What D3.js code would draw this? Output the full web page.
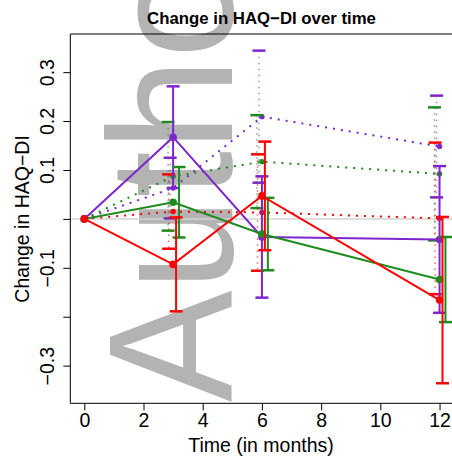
<!DOCTYPE html>
<html>
<head>
    <meta charset="utf-8" />
    <script src="https://d3js.org/d3.v7.min.js"></script>
    <style>
        body { margin: 0; background: #fff; }
        svg { display: block; font-family: "Liberation Sans", Arial, sans-serif; }
    </style>
</head>
<body>
<div id="chart"></div>
<script>
    // ---- data ----
    var times = [0, 3, 6, 12];

    // solid lines
    var purpleMean = [0, 0.167, -0.037, -0.042];
    var purpleErr  = [0, 0.104, 0.124, 0.150];
    var greenMean  = [0, 0.034, -0.031, -0.124];
    var greenErr   = [0, 0.072, 0.074, 0.087];
    var redMean    = [0, -0.093, 0.047, -0.166];
    var redErr     = [0, 0.096, 0.111, 0.170];

    // dotted lines
    var purpleDotMean = [0, 0.063, 0.209, 0.148];
    var purpleDotErr  = [0, 0.062, 0.135, 0.104];
    var greenDotMean  = [0, 0.087, 0.117, 0.092];
    var greenDotErr   = [0, 0.111, 0.095, 0.136];
    var redDotMean    = [0, 0.015, 0.013, 0.001];
    var redDotErr     = [0, 0.076, 0.119, 0.155];

    var xTicks = [0, 2, 4, 6, 8, 10, 12];
    var yTicks = [-0.3, -0.2, -0.1, 0, 0.1, 0.2, 0.3];
    var yTickLabels = ["\u22120.3", "", "\u22120.1", "", "0.1", "0.2", "0.3"];

    var W = 452, H = 462;
    var purple = "#7D26CD", green = "#1E8B1E", red = "#FF0000";

    var svg = d3.select("#chart").append("svg")
        .attr("width", W).attr("height", H);

    // plot region (right edge falls outside the window)
    var x = d3.scaleLinear().domain([-0.473, 12.6]).range([70.3, 457.3]);
    var y = d3.scaleLinear().domain([-0.377, 0.378]).range([403.3, 34]);

    // watermark behind everything
    svg.append("text")
        .attr("transform", "translate(232,402) rotate(-90) scale(0.95,1)")
        .attr("font-size", 176)
        .attr("fill", "#b3b3b3")
        .text("Author Manuscript");

    // zero reference line
    svg.append("line")
        .attr("x1", x.range()[0]).attr("x2", W)
        .attr("y1", y(0)).attr("y2", y(0))
        .attr("stroke", "#d3d3d3").attr("stroke-width", 1.5);

    var series = [
        {mean: purpleDotMean, err: purpleDotErr, color: purple, dotted: true, shift: -0.1},
        {mean: greenDotMean, err: greenDotErr, color: green, dotted: true, shift: -0.17},
        {mean: redDotMean, err: redDotErr, color: red, dotted: true, shift: -0.15},
        {mean: purpleMean, err: purpleErr, color: purple, dotted: false, shift: 0},
        {mean: greenMean, err: greenErr, color: green, dotted: false, shift: 0.2},
        {mean: redMean, err: redErr, color: red, dotted: false, shift: 0.1}
    ];

    var line = d3.line().x(d => x(d.t)).y(d => y(d.m));

    series.forEach(function (s) {
        var pts = times.map((t, i) => ({t: t, m: s.mean[i], e: s.err[i]}));
        var g = svg.append("g");

        g.append("path")
            .attr("d", line(pts))
            .attr("fill", "none")
            .attr("stroke", s.color)
            .attr("stroke-width", 2)
            .attr("stroke-dasharray", s.dotted ? "2,6" : null);

        // error bars (jittered a little along x)
        var bars = g.selectAll(".bar")
            .data(pts.filter(d => d.e > 0))
            .enter().append("g");
        bars.append("line")
            .attr("x1", d => x(d.t + s.shift)).attr("x2", d => x(d.t + s.shift))
            .attr("y1", d => y(d.m + d.e)).attr("y2", d => y(d.m - d.e))
            .attr("stroke", s.color)
            .attr("stroke-width", s.dotted ? 1.5 : 2)
            .attr("stroke-opacity", s.dotted ? 0.6 : 1)
            .attr("stroke-dasharray", s.dotted ? "1.5,4.5" : null);
        [1, -1].forEach(function (sign) {
            bars.append("line")
                .attr("x1", d => x(d.t + s.shift) - 6.5).attr("x2", d => x(d.t + s.shift) + 6.5)
                .attr("y1", d => y(d.m + sign * d.e)).attr("y2", d => y(d.m + sign * d.e))
                .attr("stroke", s.color).attr("stroke-width", 2.5);
        });

        g.selectAll("circle")
            .data(pts)
            .enter().append("circle")
            .attr("cx", d => x(d.t)).attr("cy", d => y(d.m))
            .attr("r", s.dotted ? 2.7 : 3.8)
            .attr("fill", s.color);
    });

    // box (left, top, bottom)
    svg.append("path")
        .attr("d", "M" + W + "," + y.range()[1] + "H" + x.range()[0] + "V" + y.range()[0] + "H" + W)
        .attr("fill", "none").attr("stroke", "#000").attr("stroke-width", 1);

    // x axis
    var xAxis = svg.append("g")
        .attr("transform", "translate(0," + y.range()[0] + ")")
        .call(d3.axisBottom(x).tickValues(xTicks).tickSize(7).tickPadding(3).tickFormat(d3.format("d")));
    xAxis.select(".domain").remove();
    xAxis.selectAll("text").attr("font-size", 19.5).attr("font-family", "Liberation Sans, Arial, sans-serif").attr("fill", "#000");

    // y axis, labels turned like R's las=0
    var yAxis = svg.append("g")
        .attr("transform", "translate(" + x.range()[0] + ",0)")
        .call(d3.axisLeft(y).tickValues(yTicks).tickSize(7).tickFormat((d, i) => yTickLabels[i]));
    yAxis.select(".domain").remove();
    yAxis.selectAll("text")
        .attr("x", null).attr("dy", null)
        .attr("transform", "translate(-16,0) rotate(-90)")
        .attr("text-anchor", "middle")
        .attr("font-size", 19.5)
        .attr("font-family", "Liberation Sans, Arial, sans-serif")
        .attr("fill", "#000");

    // titles
    svg.append("text")
        .attr("x", 261.5).attr("y", 24)
        .attr("text-anchor", "middle")
        .attr("font-size", 16.8).attr("font-weight", "bold")
        .text("Change in HAQ\u2212DI over time");

    svg.append("text")
        .attr("x", 261).attr("y", 452)
        .attr("text-anchor", "middle")
        .attr("font-size", 19.5)
        .text("Time (in months)");

    svg.append("text")
        .attr("transform", "translate(29," + y(0) + ") rotate(-90)")
        .attr("text-anchor", "middle")
        .attr("font-size", 19.5)
        .text("Change in HAQ\u2212DI");
</script>
</body>
</html>
